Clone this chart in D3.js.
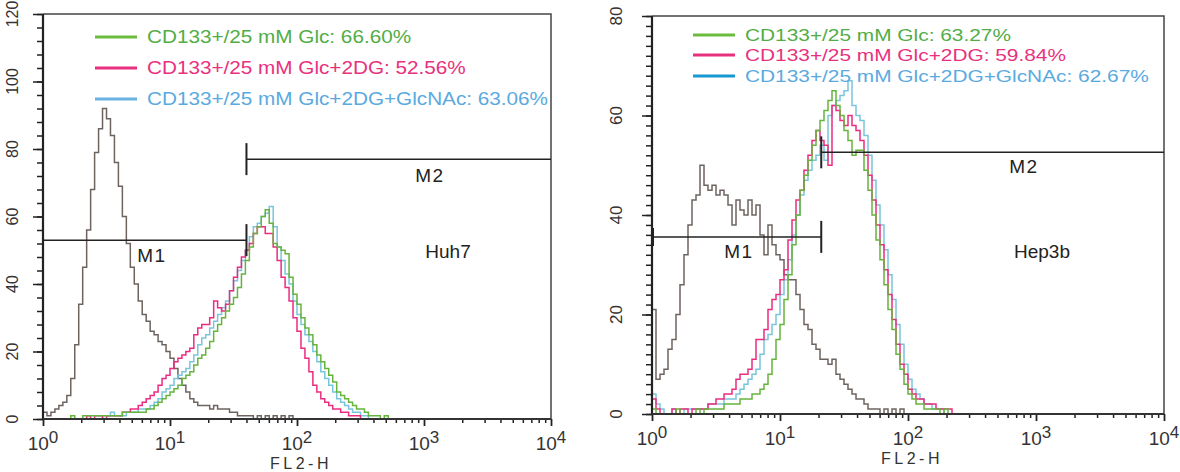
<!DOCTYPE html>
<html>
<head>
<meta charset="utf-8">
<script src="https://cdn.jsdelivr.net/npm/d3@7"></script>
<style>
  body { margin: 0; background: #fff; }
  svg text { font-family: "Liberation Sans", Arial, sans-serif; }
</style>
</head>
<body>
<div id="chart"></div>
<script>
// histogram channels: 32 bins per decade, starting at 10^0
var binW = 1 / 32;

var conditions = ["CD133+/25 mM Glc", "CD133+/25 mM Glc+2DG", "CD133+/25 mM Glc+2DG+GlcNAc"];
var huhPct = ["66.60%", "52.56%", "63.06%"];
var hepPct = ["63.27%", "59.84%", "62.67%"];

// Huh7 panel
var huhIso = [2,1,2,3,4,5,7,12,22,34, 45,56,68,79,86,92,89,84,76,69, 60,52,45,40,35,31,29,26,25,23,
  22,20,18,15,12,10,8,6,5,4, 4,4,3,4,3,3,3,2,2,1, 1,1,1,0,1,0,1,0,1,0, 1,0,1,0,0];
var huhGlc = [0,0,0,0,0,0,0,1,0,0, 1,1,1,1,1,1,1,1,1,1, 2,2,2,2,2,2,3,3,4,5,
  6,7,8,9,10,12,13,14,16,18, 19,21,23,26,28,30,32,34,36,39, 43,47,51,55,57,60,62,58,52,51,
  50,49,42,37,34,30,27,25,22,19, 17,15,13,11,8,7,6,5,4,3, 3,2,1,1,1,0,1,0];
var huhDG = [0,0,0,0,0,0,0,0,0,0, 0,1,0,1,1,0,1,1,1,1, 2,2,3,3,4,5,6,7,8,10,
  12,13,15,17,18,19,20,21,25,27, 28,28,30,35,33,32,34,38,42,45, 48,50,52,55,57,57,55,55,51,47,
  42,39,35,30,26,21,18,14,10,8, 6,5,4,3,3,2,2,1,1,1, 0];
var huhNAc = [0,0,0,0,0,0,0,0,0,0, 0,0,0,0,0,1,1,2,1,1, 1,2,2,2,3,3,3,4,5,6,
  8,9,10,12,13,14,15,17,19,22, 24,25,27,29,31,33,35,38,41,44, 47,50,54,57,58,60,61,63,57,51,
  47,43,40,35,31,28,25,23,20,17, 14,12,10,8,6,5,4,3,2,2, 1,1,0];

// Hep3b panel
var hepIso = [21,7,8,9,13,15,20,26,32,38, 43,44,50,46,45,46,44,45,44,42, 38,43,41,40,43,40,42,36,32,38,
  34,32,31,28,27,27,24,21,18,17, 14,13,11,11,10,11,8,7,6,5, 4,3,3,2,1,1,1,0,1,0, 1,0,1,0,0];
var hepGlc = [1,0,0,0,0,0,1,0,0,0, 0,1,0,1,1,1,1,1,2,2, 2,2,3,3,3,4,4,5,6,8,
  11,15,18,23,28,34,40,45,48,51, 54,57,59,61,63,65,62,60,57,55, 52,53,53,49,45,40,35,31,26,21,
  17,12,9,6,4,3,2,2,1,1, 1,1,0,1,0];
var hepDG = [3,1,0,0,0,1,0,1,1,0, 1,1,1,1,2,2,3,3,4,4, 5,7,8,8,9,11,15,15,17,21,
  23,24,27,29,35,39,43,45,49,52, 55,57,55,54,50,62,61,59,58,60, 58,57,55,52,48,43,38,34,29,24,
  19,14,10,8,5,4,3,3,2,2, 2,1,1,1,1,0];
var hepNAc = [4,2,1,0,0,1,0,0,1,1, 1,1,1,1,2,2,2,2,3,3, 3,4,5,6,7,8,9,12,15,16,
  18,20,24,27,31,36,40,44,47,49, 51,52,54,51,60,62,63,64,65,67, 62,60,59,56,52,47,42,38,33,28,
  23,18,14,10,7,5,4,3,2,2, 1,1,1,0];

// marker gates
var gateNames = ["M1", "M2"];
var huhGateFrom = [1, 40], huhGateTo = [40, 10000], huhGateLevel = [53, 77];
var hepGateFrom = [1, 21], hepGateTo = [21, 10000], hepGateLevel = [35.6, 52.6];

var histColors = ["#66b43c", "#ec2c80", "#79c5dc"];
var textColors = ["#52ad46", "#e8317e", "#5aaadf"];

var svg = d3.select('#chart').append('svg')
  .attr('width', 1180)
  .attr('height', 472);

var panels = [
  { left: 43, right: 551, top: 14, bottom: 419, yMax: 120, yMinor: 4,
    iso: huhIso, series: [huhGlc, huhDG, huhNAc], pct: huhPct,
    gFrom: huhGateFrom, gTo: huhGateTo, gLevel: huhGateLevel, startBar: false,
    cell: "Huh7", cellX: 448, cellY: 258,
    gateLabel: [[152, 262], [430, 182]],
    legX: 95, legY: [37, 68, 99], legFont: 18.5, legScale: 1.12,
    legLine: ["#6cbb3c", "#e8317e", "#6ab2e0"],
    yLabOff: 25, yLabFont: 16, titleX: 301, titleY: 469 },
  { left: 652, right: 1164, top: 16, bottom: 414, yMax: 80, yMinor: 2,
    iso: hepIso, series: [hepGlc, hepDG, hepNAc], pct: hepPct,
    gFrom: hepGateFrom, gTo: hepGateTo, gLevel: hepGateLevel, startBar: true,
    cell: "Hep3b", cellX: 1042, cellY: 258,
    gateLabel: [[739, 258], [1024, 173]],
    legX: 693, legY: [35, 55, 76], legFont: 16.5, legScale: 1.264,
    legLine: ["#6cbb3c", "#e8317e", "#1898d5"],
    yLabOff: 30, yLabFont: 17, titleX: 912, titleY: 464 }
];

function histPoints(vals) {
  var pts = vals.map(function(v, i) { return [Math.pow(10, i * binW), v]; });
  pts.push([Math.pow(10, vals.length * binW), 0]);
  pts.push([10000, 0]);
  return pts;
}

panels.forEach(function(p) {
  var x = d3.scaleLog().domain([1, 10000]).range([p.left, p.right]);
  var y = d3.scaleLinear().domain([0, p.yMax]).range([p.bottom, p.top]);
  var g = svg.append('g');

  // frame top + right
  g.append('path')
    .attr('d', 'M' + x(1) + ',' + y(p.yMax) + 'H' + x(10000) + 'V' + y(0))
    .attr('fill', 'none').attr('stroke', '#444').attr('stroke-width', 1.5);

  var line = d3.line()
    .x(function(d) { return x(d[0]); })
    .y(function(d) { return y(d[1]); })
    .curve(d3.curveStepAfter);

  g.append('path').attr('d', line(histPoints(p.iso)))
    .attr('fill', 'none').attr('stroke', '#6d6460').attr('stroke-width', 1.5);
  [2, 1, 0].forEach(function(k) {
    g.append('path').attr('d', line(histPoints(p.series[k])))
      .attr('fill', 'none').attr('stroke', histColors[k]).attr('stroke-width', 1.5);
  });

  // gates (end bars only where they do not sit on the frame)
  p.gFrom.forEach(function(f, i) {
    var yy = y(p.gLevel[i]);
    g.append('line').attr('x1', x(f)).attr('x2', x(p.gTo[i]))
      .attr('y1', yy).attr('y2', yy).attr('stroke', '#222').attr('stroke-width', 1.5);
    [f, p.gTo[i]].filter(function(e) { return e < 10000 && (e > 1 || p.startBar); }).forEach(function(e) {
      var half = e === 1 ? 9 : 16;
      var bx = x(e) + (e === 1 ? 1 : 0);
      g.append('line').attr('x1', bx).attr('x2', bx)
        .attr('y1', yy - half).attr('y2', yy + half).attr('stroke', '#222').attr('stroke-width', 2);
    });
    g.append('text').attr('x', p.gateLabel[i][0]).attr('y', p.gateLabel[i][1])
      .attr('text-anchor', 'middle').attr('font-size', 19).attr('letter-spacing', 1.5)
      .attr('fill', '#222').text(gateNames[i]);
  });

  g.append('text').attr('x', p.cellX).attr('y', p.cellY)
    .attr('text-anchor', 'middle').attr('font-size', 19).attr('fill', '#222').text(p.cell);

  // y axis
  var yMinor = d3.range(0, p.yMax + 0.1, p.yMinor);
  var yMajor = d3.range(0, p.yMax + 0.1, 20);
  g.append('g').attr('transform', 'translate(' + p.left + ',0)')
    .call(d3.axisLeft(y).tickValues(yMinor).tickSize(6).tickFormat(''))
    .call(function(a) { a.select('.domain').remove(); a.selectAll('line').attr('stroke', '#222').attr('stroke-width', 1.5); });
  g.append('g').attr('transform', 'translate(' + p.left + ',0)')
    .call(d3.axisLeft(y).tickValues(yMajor).tickSize(10).tickFormat(''))
    .call(function(a) { a.select('.domain').remove(); a.selectAll('line').attr('stroke', '#222').attr('stroke-width', 1.5); });
  g.append('line').attr('x1', p.left).attr('x2', p.left).attr('y1', y(p.yMax)).attr('y2', y(0))
    .attr('stroke', '#222').attr('stroke-width', 2.2);
  yMajor.forEach(function(v) {
    g.append('text')
      .attr('transform', 'translate(' + (p.left - p.yLabOff) + ',' + y(v) + ') rotate(-90)')
      .attr('text-anchor', 'middle').attr('font-size', p.yLabFont).attr('fill', '#333')
      .text(v);
  });

  // x axis
  var xMajor = [1, 10, 100, 1000, 10000];
  var xMinor = [];
  [1, 10, 100, 1000].forEach(function(d) { for (var k = 2; k < 10; k++) xMinor.push(d * k); });
  g.append('g').attr('transform', 'translate(0,' + p.bottom + ')')
    .call(d3.axisBottom(x).tickValues(xMinor).tickSize(4).tickFormat(''))
    .call(function(a) { a.select('.domain').remove(); a.selectAll('line').attr('stroke', '#222').attr('stroke-width', 1.5); });
  g.append('g').attr('transform', 'translate(0,' + p.bottom + ')')
    .call(d3.axisBottom(x).tickValues(xMajor).tickSize(7).tickFormat(''))
    .call(function(a) { a.select('.domain').remove(); a.selectAll('line').attr('stroke', '#222').attr('stroke-width', 1.8); });
  g.append('line').attr('x1', p.left).attr('x2', p.right).attr('y1', p.bottom).attr('y2', p.bottom)
    .attr('stroke', '#333').attr('stroke-width', 2);
  xMajor.forEach(function(v, i) {
    var t = g.append('text').attr('x', x(v)).attr('y', p.bottom + 31)
      .attr('text-anchor', 'middle').attr('font-size', 19).attr('fill', '#333');
    t.append('tspan').text('10');
    t.append('tspan').attr('dy', -7).attr('font-size', 17).text(i);
  });
  g.append('text').attr('x', p.titleX).attr('y', p.titleY)
    .attr('text-anchor', 'middle').attr('font-size', 16).attr('letter-spacing', 3.5)
    .attr('fill', '#333').text('FL2-H');

  // legend
  conditions.forEach(function(c, i) {
    var ly = p.legY[i];
    g.append('line').attr('x1', p.legX).attr('x2', p.legX + 42).attr('y1', ly).attr('y2', ly)
      .attr('stroke', p.legLine[i]).attr('stroke-width', 3);
    g.append('g').attr('transform', 'translate(' + (p.legX + 52) + ',' + (ly + 6) + ') scale(' + p.legScale + ',1)')
      .append('text').attr('font-size', p.legFont).attr('fill', textColors[i])
      .text(c + ': ' + p.pct[i]);
  });
});
</script>
</body>
</html>
